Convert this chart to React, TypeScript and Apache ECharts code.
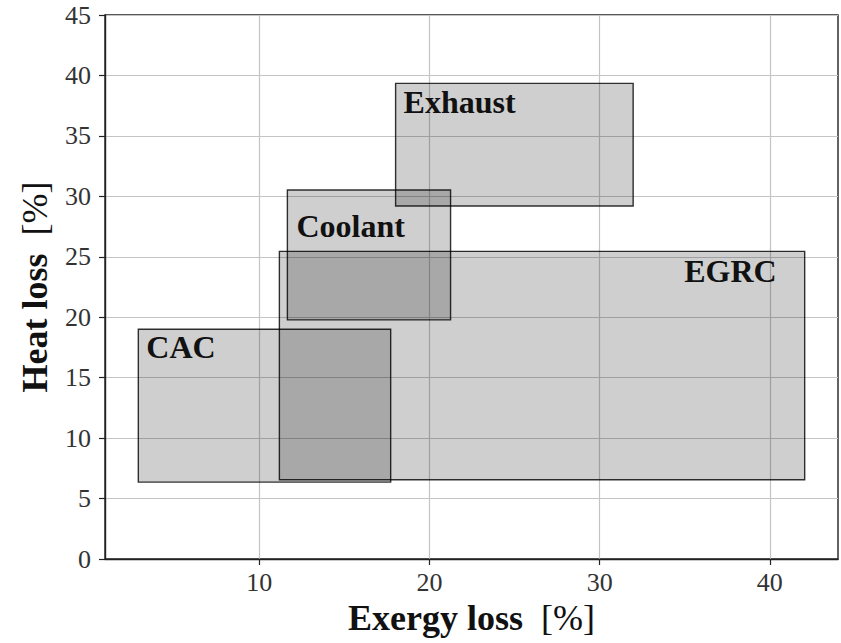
import React, { useEffect, useRef } from "react";
import * as echarts from "echarts";

const boxNames = ["CAC", "EGRC", "Coolant", "Exhaust"];
const exergyMin = [2.89, 11.18, 11.65, 18.01];
const exergyMax = [17.72, 42.05, 21.24, 31.97];
const heatMin = [6.36, 6.55, 19.78, 29.2];
const heatMax = [19.0, 25.45, 30.52, 39.34];
const xTicks = [10, 20, 30, 40];
const yTicks = [0, 5, 10, 15, 20, 25, 30, 35, 40, 45];

const FONT = "'Liberation Serif', 'Times New Roman', serif";
// label placement (pixels) inside each box
const labelStyle: Record<string, { right: boolean; dx: number; dy: number }> = {
  CAC: { right: false, dx: 8, dy: 2 },
  EGRC: { right: true, dx: 28, dy: 4 },
  Coolant: { right: false, dx: 9, dy: 20 },
  Exhaust: { right: false, dx: 8, dy: 3 },
};

export default function App() {
  const ref = useRef<HTMLDivElement>(null);
  useEffect(() => {
    if (!ref.current) return;
    const chart = echarts.init(ref.current, null, { renderer: "svg" });
    const lo = Math.min(...exergyMin);
    const hi = Math.max(...exergyMax);
    const pad = (hi - lo) * 0.05;
    const data = boxNames.map((n, i) => [exergyMin[i], exergyMax[i], heatMin[i], heatMax[i], n]);
    const titleRich = {
      b: { fontFamily: FONT, fontWeight: "bold", fontSize: 36, color: "#111" },
      r: { fontFamily: FONT, fontWeight: "normal", fontSize: 36, color: "#111" },
    };
    chart.setOption({
      animation: false,
      backgroundColor: "#ffffff",
      grid: {
        left: 105,
        right: 3,
        top: 15,
        bottom: 84,
        show: true,
        borderColor: "#222",
        borderWidth: 1.4,
        backgroundColor: "transparent",
        outerBoundsMode: "none",
        containLabel: false,
      },
      xAxis: {
        type: "value",
        min: lo - pad,
        max: hi + pad,
        name: "{b|Exergy loss  }{r|[%]}",
        nameLocation: "middle",
        nameGap: 40,
        nameTextStyle: { rich: titleRich },
        axisLine: { show: true, lineStyle: { color: "#222", width: 1.4 } },
        axisTick: { show: true, customValues: xTicks, length: 6, lineStyle: { color: "#222", width: 1.2 } },
        axisLabel: {
          customValues: xTicks,
          fontFamily: FONT,
          fontSize: 26,
          color: "#333",
          margin: 10,
        },
        splitLine: { show: true, lineStyle: { color: "#c4c4c4", width: 1.2 } },
      },
      yAxis: {
        type: "value",
        min: 0,
        max: 45,
        interval: 5,
        name: "{b|Heat loss  }{r|[%]}",
        nameLocation: "middle",
        nameRotate: 90,
        nameGap: 52,
        nameTextStyle: { rich: titleRich },
        axisLine: { show: true, lineStyle: { color: "#222", width: 1.4 } },
        axisTick: { show: true, length: 6, lineStyle: { color: "#222", width: 1.2 } },
        axisLabel: {
          fontFamily: FONT,
          fontSize: 26,
          color: "#333",
          margin: 14,
          formatter: (v: number) => (yTicks.includes(v) ? String(v) : ""),
        },
        splitLine: { show: true, lineStyle: { color: "#c4c4c4", width: 1.2 } },
      },
      series: [
        {
          type: "custom",
          data,
          encode: { x: [0, 1], y: [2, 3] },
          renderItem: (params: any, api: any) => {
            const p0 = api.coord([api.value(0), api.value(3)]);
            const p1 = api.coord([api.value(1), api.value(2)]);
            const name = boxNames[params.dataIndex];
            const ls = labelStyle[name];
            return {
              type: "group",
              children: [
                {
                  type: "rect",
                  shape: { x: p0[0], y: p0[1], width: p1[0] - p0[0], height: p1[1] - p0[1] },
                  style: { fill: "rgba(0,0,0,0.19)", stroke: "rgba(0,0,0,0.8)", lineWidth: 1.4 },
                },
                {
                  type: "text",
                  x: ls.right ? p1[0] - ls.dx : p0[0] + ls.dx,
                  y: p0[1] + ls.dy,
                  style: {
                    text: name,
                    fill: "#111",
                    fontFamily: FONT,
                    fontWeight: "bold",
                    fontSize: 32,
                    align: ls.right ? "right" : "left",
                    verticalAlign: "top",
                  },
                },
              ],
            };
          },
        },
      ],
    });
    return () => chart.dispose();
  }, []);
  return (
    <div
      ref={ref}
      style={{ position: "fixed", left: 0, top: 0, width: 841, height: 643, background: "#fff" }}
    />
  );
}
